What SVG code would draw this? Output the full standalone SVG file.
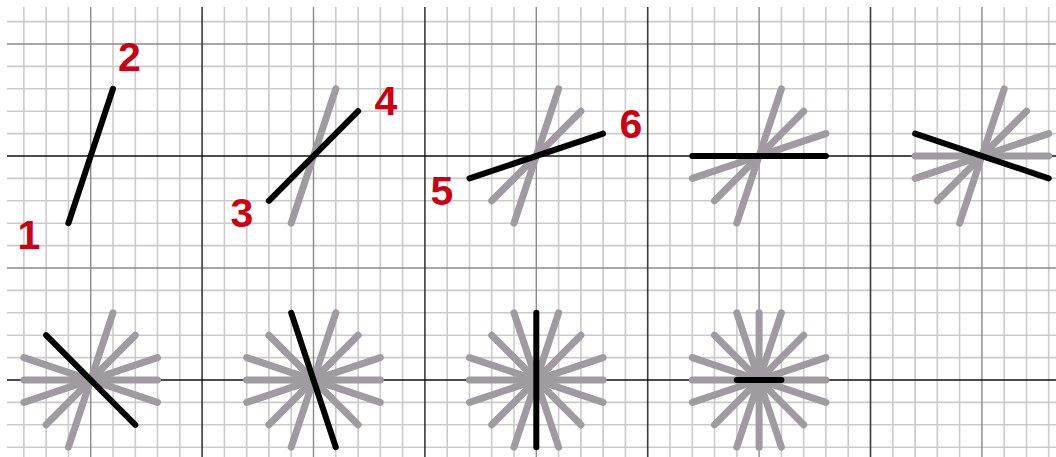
<svg xmlns="http://www.w3.org/2000/svg" width="1056" height="457" viewBox="0 0 1056 457">
<style>
.fine{stroke:#cbcbcb;stroke-width:1.6}
.mid{stroke:#8a8a8a;stroke-width:1.4}
.dark{stroke:#3a3a3a;stroke-width:1.6}
.axis{stroke:#111;stroke-width:1.4}
.ray{stroke:#a09aa1;stroke-width:7;stroke-linecap:round;fill:none}
.cur{stroke:#000;stroke-width:6;stroke-linecap:round;fill:none}
.num{font-family:"Liberation Sans",Arial,sans-serif;font-weight:bold;font-size:41px;fill:#cc0012;text-anchor:middle}
</style>
<rect width="1056" height="457" fill="#fff"/>
<g id="grid">
<g class="fine">
<line x1="23.9" y1="7" x2="23.9" y2="457"/><line x1="46.1" y1="7" x2="46.1" y2="457"/><line x1="68.4" y1="7" x2="68.4" y2="457"/>
<line x1="113" y1="7" x2="113" y2="457"/><line x1="135.3" y1="7" x2="135.3" y2="457"/><line x1="157.5" y1="7" x2="157.5" y2="457"/><line x1="179.8" y1="7" x2="179.8" y2="457"/>
<line x1="224.4" y1="7" x2="224.4" y2="457"/><line x1="246.7" y1="7" x2="246.7" y2="457"/><line x1="268.9" y1="7" x2="268.9" y2="457"/><line x1="291.2" y1="7" x2="291.2" y2="457"/>
<line x1="335.8" y1="7" x2="335.8" y2="457"/><line x1="358.1" y1="7" x2="358.1" y2="457"/><line x1="380.3" y1="7" x2="380.3" y2="457"/><line x1="402.6" y1="7" x2="402.6" y2="457"/>
<line x1="447.2" y1="7" x2="447.2" y2="457"/><line x1="469.5" y1="7" x2="469.5" y2="457"/><line x1="491.7" y1="7" x2="491.7" y2="457"/><line x1="514" y1="7" x2="514" y2="457"/>
<line x1="558.6" y1="7" x2="558.6" y2="457"/><line x1="580.9" y1="7" x2="580.9" y2="457"/><line x1="603.1" y1="7" x2="603.1" y2="457"/><line x1="625.4" y1="7" x2="625.4" y2="457"/>
<line x1="670" y1="7" x2="670" y2="457"/><line x1="692.3" y1="7" x2="692.3" y2="457"/><line x1="714.5" y1="7" x2="714.5" y2="457"/><line x1="736.8" y1="7" x2="736.8" y2="457"/>
<line x1="781.4" y1="7" x2="781.4" y2="457"/><line x1="803.7" y1="7" x2="803.7" y2="457"/><line x1="825.9" y1="7" x2="825.9" y2="457"/><line x1="848.2" y1="7" x2="848.2" y2="457"/>
<line x1="892.8" y1="7" x2="892.8" y2="457"/><line x1="915.1" y1="7" x2="915.1" y2="457"/><line x1="937.3" y1="7" x2="937.3" y2="457"/><line x1="959.6" y1="7" x2="959.6" y2="457"/>
<line x1="1004.2" y1="7" x2="1004.2" y2="457"/><line x1="1026.5" y1="7" x2="1026.5" y2="457"/><line x1="1048.7" y1="7" x2="1048.7" y2="457"/>
<line x1="7" y1="21.6" x2="1056" y2="21.6"/><line x1="7" y1="66.4" x2="1056" y2="66.4"/><line x1="7" y1="88.8" x2="1056" y2="88.8"/><line x1="7" y1="111.2" x2="1056" y2="111.2"/><line x1="7" y1="133.6" x2="1056" y2="133.6"/>
<line x1="7" y1="178.4" x2="1056" y2="178.4"/><line x1="7" y1="200.8" x2="1056" y2="200.8"/><line x1="7" y1="223.2" x2="1056" y2="223.2"/><line x1="7" y1="245.6" x2="1056" y2="245.6"/>
<line x1="7" y1="290.4" x2="1056" y2="290.4"/><line x1="7" y1="312.8" x2="1056" y2="312.8"/><line x1="7" y1="335.2" x2="1056" y2="335.2"/><line x1="7" y1="357.6" x2="1056" y2="357.6"/>
<line x1="7" y1="402.4" x2="1056" y2="402.4"/><line x1="7" y1="424.8" x2="1056" y2="424.8"/><line x1="7" y1="447.2" x2="1056" y2="447.2"/>
</g>
<g class="mid">
<line x1="90.7" y1="7" x2="90.7" y2="457"/><line x1="313.5" y1="7" x2="313.5" y2="457"/><line x1="536.3" y1="7" x2="536.3" y2="457"/><line x1="759.1" y1="7" x2="759.1" y2="457"/><line x1="981.9" y1="7" x2="981.9" y2="457"/>
<line x1="7" y1="44" x2="1056" y2="44"/><line x1="7" y1="268" x2="1056" y2="268"/>
</g>
<g class="dark">
<line x1="202.1" y1="7" x2="202.1" y2="457"/><line x1="424.9" y1="7" x2="424.9" y2="457"/><line x1="647.7" y1="7" x2="647.7" y2="457"/><line x1="870.5" y1="7" x2="870.5" y2="457"/>
</g>
<g class="axis">
<line x1="7" y1="156" x2="1056" y2="156"/><line x1="7" y1="380" x2="1056" y2="380"/>
</g>
</g>
<g id="panel-1" transform="translate(90.7,156)">
<line class="cur" x1="-22.3" y1="67.2" x2="22.3" y2="-67.2"/>
<text class="num" x="-61.7" y="93">1</text>
<text class="num" x="38.8" y="-85.3">2</text>
</g>
<g id="panel-2" transform="translate(313.5,156)">
<line class="ray" x1="-22.3" y1="67.2" x2="22.3" y2="-67.2"/>
<line class="cur" x1="-44.6" y1="44.8" x2="44.6" y2="-44.8"/>
<text class="num" x="-71.5" y="71">3</text>
<text class="num" x="72.5" y="-41">4</text>
</g>
<g id="panel-3" transform="translate(536.3,156)">
<line class="ray" x1="-22.3" y1="67.2" x2="22.3" y2="-67.2"/>
<line class="ray" x1="-44.6" y1="44.8" x2="44.6" y2="-44.8"/>
<line class="cur" x1="-66.8" y1="22.4" x2="66.8" y2="-22.4"/>
<text class="num" x="-94.3" y="49">5</text>
<text class="num" x="94.7" y="-18">6</text>
</g>
<g id="panel-4" transform="translate(759.1,156)">
<line class="ray" x1="-22.3" y1="67.2" x2="22.3" y2="-67.2"/>
<line class="ray" x1="-44.6" y1="44.8" x2="44.6" y2="-44.8"/>
<line class="ray" x1="-66.8" y1="22.4" x2="66.8" y2="-22.4"/>
<line class="cur" x1="-66.8" y1="0" x2="66.8" y2="0"/>
</g>
<g id="panel-5" transform="translate(981.9,156)">
<line class="ray" x1="-22.3" y1="67.2" x2="22.3" y2="-67.2"/>
<line class="ray" x1="-44.6" y1="44.8" x2="44.6" y2="-44.8"/>
<line class="ray" x1="-66.8" y1="22.4" x2="66.8" y2="-22.4"/>
<line class="ray" x1="-66.8" y1="0" x2="66.8" y2="0"/>
<line class="cur" x1="-66.8" y1="-22.4" x2="66.8" y2="22.4"/>
</g>
<g id="panel-6" transform="translate(90.7,380)">
<line class="ray" x1="-22.3" y1="67.2" x2="22.3" y2="-67.2"/>
<line class="ray" x1="-44.6" y1="44.8" x2="44.6" y2="-44.8"/>
<line class="ray" x1="-66.8" y1="22.4" x2="66.8" y2="-22.4"/>
<line class="ray" x1="-66.8" y1="0" x2="66.8" y2="0"/>
<line class="ray" x1="-66.8" y1="-22.4" x2="66.8" y2="22.4"/>
<line class="cur" x1="-44.6" y1="-44.8" x2="44.6" y2="44.8"/>
</g>
<g id="panel-7" transform="translate(313.5,380)">
<line class="ray" x1="-22.3" y1="67.2" x2="22.3" y2="-67.2"/>
<line class="ray" x1="-44.6" y1="44.8" x2="44.6" y2="-44.8"/>
<line class="ray" x1="-66.8" y1="22.4" x2="66.8" y2="-22.4"/>
<line class="ray" x1="-66.8" y1="0" x2="66.8" y2="0"/>
<line class="ray" x1="-66.8" y1="-22.4" x2="66.8" y2="22.4"/>
<line class="ray" x1="-44.6" y1="-44.8" x2="44.6" y2="44.8"/>
<line class="cur" x1="-22.3" y1="-67.2" x2="22.3" y2="67.2"/>
</g>
<g id="panel-8" transform="translate(536.3,380)">
<line class="ray" x1="-22.3" y1="67.2" x2="22.3" y2="-67.2"/>
<line class="ray" x1="-44.6" y1="44.8" x2="44.6" y2="-44.8"/>
<line class="ray" x1="-66.8" y1="22.4" x2="66.8" y2="-22.4"/>
<line class="ray" x1="-66.8" y1="0" x2="66.8" y2="0"/>
<line class="ray" x1="-66.8" y1="-22.4" x2="66.8" y2="22.4"/>
<line class="ray" x1="-44.6" y1="-44.8" x2="44.6" y2="44.8"/>
<line class="ray" x1="-22.3" y1="-67.2" x2="22.3" y2="67.2"/>
<line class="cur" x1="0" y1="-67.2" x2="0" y2="67.2"/>
</g>
<g id="panel-9" transform="translate(759.1,380)">
<line class="ray" x1="-22.3" y1="67.2" x2="22.3" y2="-67.2"/>
<line class="ray" x1="-44.6" y1="44.8" x2="44.6" y2="-44.8"/>
<line class="ray" x1="-66.8" y1="22.4" x2="66.8" y2="-22.4"/>
<line class="ray" x1="-66.8" y1="0" x2="66.8" y2="0"/>
<line class="ray" x1="-66.8" y1="-22.4" x2="66.8" y2="22.4"/>
<line class="ray" x1="-44.6" y1="-44.8" x2="44.6" y2="44.8"/>
<line class="ray" x1="-22.3" y1="-67.2" x2="22.3" y2="67.2"/>
<line class="ray" x1="0" y1="-67.2" x2="0" y2="67.2"/>
<line class="cur" x1="-22.3" y1="0" x2="22.3" y2="0"/>
</g>
<g id="panel-10"/>
</svg>
